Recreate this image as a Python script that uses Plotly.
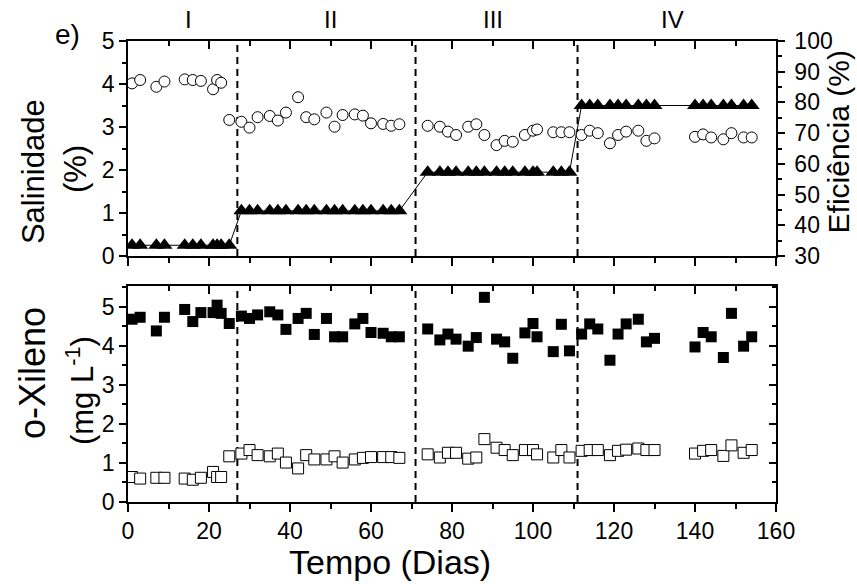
import plotly.graph_objects as go

days = [1, 3, 7, 9, 14, 16, 18, 21, 22, 23, 25,
        28, 30, 32, 35, 37, 39, 42, 44, 46, 49, 51, 53, 56, 58, 60, 63, 65, 67,
        74, 77, 79, 81, 84, 86, 88, 91, 93, 95, 98, 100, 101, 105, 107, 109,
        112, 114, 116, 119, 121, 123, 126, 128, 130,
        140, 142, 144, 147, 149, 152, 154]

salinidade = [0.25, 0.25, 0.25, 0.25, 0.25, 0.25, 0.25, 0.25, 0.25, 0.25, 0.25,
              1.05, 1.05, 1.05, 1.05, 1.05, 1.05, 1.05, 1.05, 1.05, 1.05, 1.05, 1.05, 1.05, 1.05, 1.05, 1.05, 1.05, 1.05,
              1.95, 1.95, 1.95, 1.95, 1.95, 1.95, 1.95, 1.95, 1.95, 1.95, 1.95, 1.95, 1.95, 1.95, 1.95, 1.95,
              3.5, 3.5, 3.5, 3.5, 3.5, 3.5, 3.5, 3.5, 3.5,
              3.5, 3.5, 3.5, 3.5, 3.5, 3.5, 3.5]

eficiencia = [86.2, 87.3, 85.1, 86.8, 87.5, 87.3, 87.0, 84.3, 87.3, 86.4, 74.3,
              73.7, 71.8, 75.2, 75.6, 74.1, 76.7, 81.7, 75.2, 74.5, 76.7, 72.1, 75.9, 76.1, 75.7, 73.2, 73.0, 72.4, 72.9,
              72.4, 72.1, 70.5, 69.4, 72.1, 72.9, 69.4, 66.1, 67.5, 67.2, 69.4, 70.8, 71.2, 70.3, 70.3, 70.3,
              69.4, 70.8, 70.0, 66.7, 69.4, 70.5, 70.8, 67.5, 68.3,
              68.8, 69.6, 68.6, 68.0, 70.0, 68.6, 68.6]

xileno_afluente = [4.68, 4.73, 4.38, 4.73, 4.93, 4.62, 4.85, 4.85, 5.04, 4.83, 4.57,
                   4.76, 4.70, 4.79, 4.87, 4.79, 4.42, 4.70, 4.83, 4.29, 4.70, 4.23, 4.23, 4.56, 4.70, 4.34, 4.32, 4.23, 4.23,
                   4.43, 4.15, 4.30, 4.17, 3.99, 4.21, 5.24, 4.17, 4.10, 3.68, 4.33, 4.57, 4.23, 3.85, 4.55, 3.87,
                   4.30, 4.56, 4.43, 3.63, 4.30, 4.56, 4.68, 4.10, 4.19,
                   3.97, 4.34, 4.23, 3.70, 4.83, 3.99, 4.23]

xileno_efluente = [0.64, 0.60, 0.62, 0.62, 0.60, 0.57, 0.62, 0.77, 0.64, 0.64, 1.17,
                   1.24, 1.33, 1.20, 1.17, 1.24, 1.01, 0.86, 1.20, 1.09, 1.09, 1.17, 1.01, 1.09, 1.13, 1.15, 1.15, 1.15, 1.13,
                   1.22, 1.14, 1.26, 1.26, 1.11, 1.14, 1.61, 1.39, 1.33, 1.20, 1.33, 1.33, 1.22, 1.14, 1.33, 1.14,
                   1.31, 1.33, 1.33, 1.20, 1.31, 1.34, 1.37, 1.33, 1.33,
                   1.24, 1.31, 1.33, 1.18, 1.45, 1.26, 1.33]

fase_limites = [27, 71, 111]
fase_nomes = ["I", "II", "III", "IV"]
fase_centros = [15, 50, 90, 134.5]

FONT = "Arial, Liberation Sans, sans-serif"
TICKF = dict(family=FONT, size=23, color="black")

fig = go.Figure()

# Top panel
fig.add_trace(go.Scatter(x=days, y=salinidade, mode="lines+markers", xaxis="x", yaxis="y",
                         line=dict(color="black", width=1),
                         marker=dict(symbol="triangle-up", size=14, color="black"),
                         showlegend=False))
fig.add_trace(go.Scatter(x=days, y=eficiencia, mode="markers", xaxis="x", yaxis="y2",
                         marker=dict(symbol="circle", size=11, color="white",
                                     line=dict(color="black", width=1)),
                         showlegend=False))
# Bottom panel
fig.add_trace(go.Scatter(x=days, y=xileno_afluente, mode="markers", xaxis="x2", yaxis="y3",
                         marker=dict(symbol="square", size=11, color="black",
                                     line=dict(color="black", width=0)),
                         showlegend=False))
fig.add_trace(go.Scatter(x=days, y=xileno_efluente, mode="markers", xaxis="x2", yaxis="y3",
                         marker=dict(symbol="square", size=11, color="white",
                                     line=dict(color="black", width=1)),
                         showlegend=False))
# dummy traces for mirrored inside ticks
fig.add_trace(go.Scatter(x=[None], y=[None], xaxis="x3", yaxis="y", showlegend=False, hoverinfo="skip"))
fig.add_trace(go.Scatter(x=[None], y=[None], xaxis="x4", yaxis="y3", showlegend=False, hoverinfo="skip"))
fig.add_trace(go.Scatter(x=[None], y=[None], xaxis="x2", yaxis="y4", showlegend=False, hoverinfo="skip"))

LW = 1.5
def xax(**kw):
    d = dict(range=[0, 160], dtick=20, tick0=0, ticks="outside", ticklen=8, tickwidth=LW,
             tickcolor="black", showline=True, linecolor="black", linewidth=LW,
             showgrid=False, zeroline=False, tickfont=TICKF, automargin=False,
             minor=dict(dtick=10, tick0=0, ticks="outside", ticklen=5, tickwidth=LW, tickcolor="black"))
    d.update(kw)
    return d

TOP = [0.5336, 1.0]
BOT = [0.0, 0.4685]
INMINOR = dict(dtick=10, tick0=0, ticks="inside", ticklen=5, tickwidth=LW, tickcolor="black")

fig.update_layout(
    width=857, height=584,
    margin=dict(l=128, r=81, t=41, b=82, autoexpand=False),
    paper_bgcolor="white", plot_bgcolor="white",
    font=dict(family=FONT, color="black"),
    xaxis=xax(domain=[0, 1], anchor="y", showticklabels=False, mirror=True),
    xaxis3=xax(overlaying="x", anchor="y", side="top", showticklabels=False, showline=False,
               ticks="inside", minor=INMINOR),
    yaxis=dict(domain=TOP, anchor="x", range=[0, 5], dtick=1, tick0=0, ticks="outside", ticklen=7,
               tickwidth=LW, tickcolor="black", showline=True, linecolor="black", linewidth=LW,
               showgrid=False, zeroline=False, tickfont=TICKF, automargin=False,
               minor=dict(dtick=0.5, tick0=0, ticks="outside", ticklen=4, tickwidth=LW, tickcolor="black")),
    yaxis2=dict(overlaying="y", anchor="x", side="right", range=[30, 100], dtick=10, tick0=30,
                ticks="outside", ticklen=7, tickwidth=LW, tickcolor="black", showline=True,
                linecolor="black", linewidth=LW, showgrid=False, zeroline=False, tickfont=TICKF,
                ticklabelstandoff=5, automargin=False,
                minor=dict(dtick=5, tick0=30, ticks="outside", ticklen=4, tickwidth=LW, tickcolor="black")),
    xaxis2=xax(domain=[0, 1], anchor="y3", showticklabels=True, mirror=True),
    xaxis4=xax(overlaying="x2", anchor="y3", side="top", showticklabels=False, showline=False,
               ticks="inside", minor=INMINOR),
    yaxis3=dict(domain=BOT, anchor="x2", range=[0, 5.53], dtick=1, tick0=0, ticks="outside", ticklen=7,
                tickwidth=LW, tickcolor="black", showline=True, linecolor="black", linewidth=LW,
                mirror=True, showgrid=False, zeroline=False, tickfont=TICKF, automargin=False,
                minor=dict(dtick=0.5, tick0=0, ticks="outside", ticklen=4, tickwidth=LW, tickcolor="black")),
    yaxis4=dict(overlaying="y3", anchor="x2", side="right", range=[0, 5.53], dtick=1, tick0=0,
                ticks="inside", ticklen=7, tickwidth=LW, tickcolor="black", showline=False,
                showticklabels=False, showgrid=False, zeroline=False, automargin=False,
                minor=dict(dtick=0.5, tick0=0, ticks="inside", ticklen=4, tickwidth=LW, tickcolor="black")),
)

for xb in fase_limites:
    fig.add_shape(type="line", xref="x", yref="y domain", x0=xb, x1=xb, y0=0, y1=1,
                  line=dict(color="black", width=2, dash="7px,5px"), layer="below")
    fig.add_shape(type="line", xref="x2", yref="y3 domain", x0=xb, x1=xb, y0=0, y1=1,
                  line=dict(color="black", width=2, dash="7px,5px"), layer="below")

for nome, xc in zip(fase_nomes, fase_centros):
    fig.add_annotation(x=xc, xref="x", y=1.0477, yref="paper", yanchor="middle", text=nome,
                       showarrow=False, font=dict(family=FONT, size=24, color="black"))

def ann(text, x, y, size, angle=0):
    fig.add_annotation(x=x, y=y, xref="paper", yref="paper", text=text, showarrow=False,
                       textangle=angle, xanchor="center", yanchor="middle",
                       font=dict(family=FONT, size=size, color="black"))

ann("e)", -0.0926, 1.015, 28)
ann("Salinidade", -0.1465, 0.7158, 31, -90)
ann("(%)", -0.0817, 0.7223, 31, -90)
ann("o-Xileno", -0.148, 0.2798, 36, -90)
ann("(mg L<sup>-1</sup>)", -0.074, 0.2408, 31, -90)
ann("Eficiência (%)", 1.0964, 0.781, 30, -90)
ann("Tempo (Dias)", 0.404, -0.130, 34)

fig.write_html("out.html")
